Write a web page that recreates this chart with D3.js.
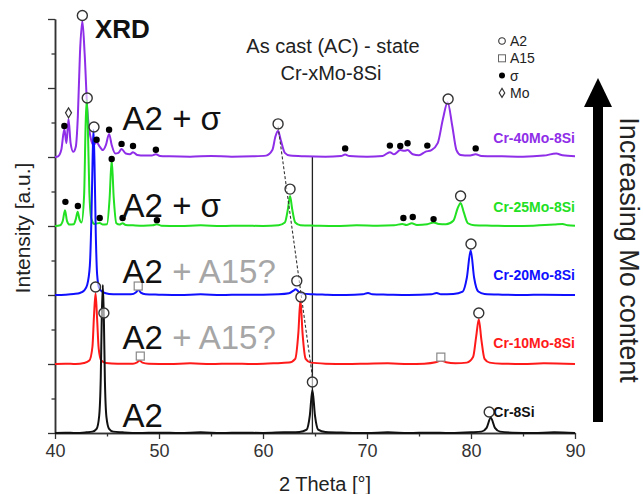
<!DOCTYPE html>
<html>
<head>
<meta charset="utf-8">
<script src="https://cdn.jsdelivr.net/npm/d3@7"></script>
<style>
  body { margin: 0; background: #fff; }
  svg { font-family: "Liberation Sans", Arial, sans-serif; display: block; }
</style>
</head>
<body>
<svg width="643" height="494"></svg>
<script>
// ---- data (2 Theta [deg], intensity in a.u. above own baseline) ----
var seriesNames = ["Cr-8Si", "Cr-10Mo-8Si", "Cr-20Mo-8Si", "Cr-25Mo-8Si", "Cr-40Mo-8Si"];
var offsets = [0, 2, 4, 6, 8];
var xTicks = [40, 50, 60, 70, 80, 90];

var cr8Si = [[40,0],[41,0.01],[42,0],[43,0.02],[43.6,0.04],[44.0,0.12],[44.25,0.5],[44.4,1.6],[44.5,3.4],[44.6,4.29],[44.7,3.3],[44.8,1.5],[44.95,0.45],[45.2,0.12],[45.6,0.04],[46.5,0.02],[48,0],[50,0.01],[52,0],[54,0.02],[56,0],[58,0.01],[60,0],[62,0.02],[63.5,0.03],[64.2,0.1],[64.5,0.5],[64.75,1.25],[65.0,0.5],[65.3,0.1],[66,0.03],[68,0.01],[70,0],[72,0.02],[74,0],[76,0.01],[78,0],[80,0.02],[81.0,0.04],[81.5,0.15],[81.9,0.44],[82.3,0.15],[82.8,0.04],[84,0.01],[86,0],[88,0.02],[90,0]];

var cr10Mo = [[40,0],[41,0.01],[42,0],[42.8,0.03],[43.3,0.1],[43.6,0.5],[43.75,1.4],[43.9,2.05],[44.05,1.3],[44.2,0.45],[44.45,0.1],[44.9,0.03],[46,0.01],[47.5,0.01],[47.9,0.05],[48.15,0.1],[48.4,0.04],[49,0.01],[51,0],[53,0.02],[55,0],[57,0.01],[59,0],[61,0.02],[62.5,0.04],[63.1,0.15],[63.4,0.9],[63.6,1.86],[63.8,0.9],[64.1,0.15],[64.6,0.04],[66,0.01],[68,0],[70,0.01],[72,0.02],[74,0],[75.5,0.01],[76.6,0.05],[77.1,0.1],[77.6,0.05],[78.5,0.02],[79.6,0.04],[80.2,0.2],[80.5,0.8],[80.75,1.3],[81.0,0.7],[81.3,0.15],[81.8,0.04],[83,0.01],[85,0],[87,0.02],[90,0]];

var cr20Mo = [[40,0],[41,0.01],[41.8,0.03],[42.4,0.06],[42.8,0.13],[43.1,0.3],[43.35,0.85],[43.5,2.2],[43.62,4.0],[43.7,4.78],[43.8,3.8],[43.92,1.8],[44.05,0.6],[44.25,0.2],[44.6,0.08],[45.2,0.03],[46,0.02],[47.3,0.02],[47.8,0.08],[48.0,0.15],[48.25,0.07],[48.7,0.02],[50,0.01],[52,0],[54,0.02],[56,0],[58,0.01],[60,0.01],[61.5,0.02],[62.5,0.05],[62.9,0.12],[63.15,0.17],[63.4,0.1],[63.8,0.04],[64.8,0.02],[66,0.01],[68,0],[69.6,0.02],[70.1,0.06],[70.5,0.02],[72,0.01],[74,0],[76.2,0.02],[76.7,0.06],[77.1,0.02],[78.3,0.03],[79.2,0.1],[79.6,0.5],[79.97,1.3],[80.3,0.5],[80.7,0.1],[81.3,0.03],[83,0.01],[85,0],[87,0.01],[90,0]];

var cr25Mo = [[40,0],[40.5,0.02],[40.75,0.15],[40.96,0.46],[41.15,0.15],[41.4,0.04],[41.8,0.05],[42.0,0.2],[42.18,0.41],[42.35,0.2],[42.55,0.1],[42.8,0.9],[42.95,3.0],[43.05,3.65],[43.15,3.0],[43.3,1.0],[43.5,0.2],[43.8,0.06],[44.3,0.09],[44.6,0.04],[45.0,0.05],[45.25,0.8],[45.45,1.91],[45.65,0.8],[45.9,0.08],[46.2,0.04],[46.5,0.08],[46.8,0.03],[47.5,0.02],[48.5,0.01],[49.4,0.02],[49.8,0.05],[50.2,0.01],[52,0],[54,0.02],[56,0],[58,0.01],[60,0],[61.5,0.02],[62.1,0.1],[62.4,0.5],[62.6,0.87],[62.8,0.5],[63.1,0.1],[63.6,0.02],[65,0.01],[67,0],[69,0.02],[71,0.01],[72.6,0.02],[73.4,0.06],[73.8,0.03],[74.3,0.08],[74.8,0.03],[75.8,0.05],[76.4,0.1],[76.9,0.06],[77.6,0.05],[78.3,0.15],[78.7,0.5],[79.0,0.67],[79.3,0.4],[79.7,0.08],[80.3,0.02],[82,0.01],[84,0],[86,0.01],[88,0.04],[88.8,0.06],[89.3,0.02],[90,0.01]];

var cr40Mo = [[40,0],[40.3,0.02],[40.6,0.2],[40.9,0.81],[41.1,0.4],[41.3,1.1],[41.5,0.4],[41.75,0.15],[42.0,0.3],[42.2,1.2],[42.4,3.0],[42.63,3.94],[42.85,3.0],[43.1,1.4],[43.4,0.6],[43.7,0.35],[44.0,0.43],[44.3,0.3],[44.6,0.2],[44.9,0.35],[45.2,0.67],[45.45,0.35],[45.8,0.1],[46.1,0.12],[46.4,0.23],[46.8,0.1],[47.2,0.08],[47.5,0.14],[47.9,0.06],[48.6,0.04],[49.3,0.04],[49.7,0.08],[50.1,0.03],[51,0.02],[53,0.01],[55,0.03],[57,0.01],[59,0.02],[60.3,0.04],[60.9,0.2],[61.2,0.6],[61.45,0.76],[61.7,0.5],[62.1,0.12],[62.6,0.04],[64,0.02],[66,0.01],[67.5,0.03],[67.9,0.07],[68.3,0.03],[70,0.01],[71.5,0.03],[72.2,0.14],[72.6,0.08],[73.2,0.2],[73.6,0.18],[73.9,0.2],[74.4,0.08],[75.0,0.05],[75.6,0.15],[76.2,0.2],[76.8,0.4],[77.3,1.1],[77.75,1.59],[78.2,0.9],[78.6,0.2],[79.0,0.06],[79.8,0.04],[80.45,0.08],[81,0.03],[83,0.02],[85,0.01],[87,0.04],[88.2,0.1],[88.8,0.05],[90,0.02]];

var patterns = [cr8Si, cr10Mo, cr20Mo, cr25Mo, cr40Mo];

// phase markers: [series index, 2 Theta, intensity above own baseline]
var a2Marks = [[4,42.63,4.1],[4,61.45,0.96],[4,77.8,1.68],
               [3,43.1,3.71],[3,62.6,1.07],[3,79.0,0.87],
               [2,43.75,4.87],[2,63.25,0.41],[2,80.0,1.48],
               [1,43.9,2.23],[1,63.65,1.94],[1,80.75,1.48],
               [0,44.7,3.48],[0,64.75,1.48],[0,81.75,0.61]];
var a15Marks = [[2,48.0,0.26],[1,48.2,0.23],[1,77.1,0.2]];
var sigmaMarks = [[4,40.9,0.9],[4,44.0,0.5],[4,45.2,0.79],[4,46.4,0.38],[4,47.5,0.32],[4,49.7,0.21],
                  [4,67.9,0.25],[4,72.2,0.33],[4,73.2,0.32],[4,73.9,0.4],[4,75.8,0.33],[4,80.45,0.25],
                  [3,41.0,0.7],[3,42.2,0.58],[3,44.3,0.23],[3,45.45,1.94],[3,46.5,0.23],[3,49.8,0.17],
                  [3,73.5,0.23],[3,74.4,0.26],[3,76.4,0.2]];
var moMarks = [[4,41.3,1.28]];

// guide lines: A2 peak shift (dashed) and Cr-8Si reference (solid)
var shiftLine = [[61.45,8.88],[64.75,1.63]];
var refLine = [[64.75,0],[64.75,8]];

var phaseLabels = [["A2 + σ",""],["A2 + σ",""],["A2"," + A15?"],["A2"," + A15?"],["A2",""]];
var phaseLabelY = [8.78, 6.26, 4.35, 2.43, 0.17];

// ---- drawing ----
var svg = d3.select("svg"),
    margin = {top: 19, right: 68, bottom: 61, left: 55},
    width = 643 - margin.left - margin.right,
    height = 494 - margin.top - margin.bottom,
    g = svg.append("g").attr("transform", "translate(" + margin.left + "," + margin.top + ")");

var colors = ["#111111", "#ff1a1a", "#1010ff", "#22e022", "#8f2ee8"];

var x = d3.scaleLinear().domain([40, 90]).range([0, width]);
var y = d3.scaleLinear().domain([0, 12]).range([height, 0]);

var axisColor = "#333";

// x axis
var xAxis = g.append("g")
    .attr("transform", "translate(0," + height + ")")
    .call(d3.axisBottom(x).tickValues(xTicks).tickSize(6).tickSizeOuter(0).tickPadding(5));
g.append("g")
    .attr("transform", "translate(0," + height + ")")
    .call(d3.axisBottom(x).tickValues([45,55,65,75,85]).tickSize(3.5).tickFormat("").tickSizeOuter(0));

// y axis, no labels
g.append("g")
    .call(d3.axisLeft(y).tickValues([0,2,4,6,8,10,12]).tickSize(7).tickFormat("").tickSizeOuter(0));
g.append("g")
    .call(d3.axisLeft(y).tickValues([1,3,5,7,9,11]).tickSize(3.5).tickFormat("").tickSizeOuter(0));

g.selectAll(".domain").attr("stroke", axisColor).attr("stroke-width", 1.5);
g.selectAll(".tick line").attr("stroke", axisColor).attr("stroke-width", 1.3);
xAxis.selectAll(".tick text").attr("font-size", 18).attr("fill", "#333")
    .attr("font-family", "Liberation Sans, Arial, sans-serif");

// reference lines
var line = d3.line().x(function(d){ return x(d[0]); }).y(function(d){ return y(d[1]); });
g.append("path").datum(refLine).attr("d", line).attr("stroke", "#222").attr("stroke-width", 1.3).attr("fill", "none");

// patterns, top series first so black lies on top
for (var i = patterns.length - 1; i >= 0; i--) {
    var off = offsets[i];
    var curve = d3.line()
        .x(function(d){ return x(d[0]); })
        .y(function(d){ return y(d[1] + off); })
        .curve(d3.curveMonotoneX);
    g.append("path")
        .datum(patterns[i])
        .attr("d", curve)
        .attr("fill", "none")
        .attr("stroke", colors[i])
        .attr("stroke-width", 2)
        .attr("stroke-linejoin", "round");
}

g.append("path").datum(shiftLine).attr("d", line).attr("stroke", "#333")
    .attr("stroke-width", 1.1).attr("stroke-dasharray", "3,2").attr("fill", "none");

// markers
function px(m){ return x(m[1]); }
function py(m){ return y(m[2] + offsets[m[0]]); }

g.selectAll(".sigma").data(sigmaMarks).enter().append("circle")
    .attr("cx", px).attr("cy", py).attr("r", 3.2).attr("fill", "#000");
g.selectAll(".a2").data(a2Marks).enter().append("circle")
    .attr("cx", px).attr("cy", py).attr("r", 5).attr("fill", "#fff").attr("fill-opacity", 0.6)
    .attr("stroke", "#333").attr("stroke-width", 1.4);
g.selectAll(".a15").data(a15Marks).enter().append("rect")
    .attr("x", function(m){ return px(m) - 4; }).attr("y", function(m){ return py(m) - 4; })
    .attr("width", 8).attr("height", 8).attr("fill", "#fff").attr("stroke", "#888").attr("stroke-width", 1.2);
g.selectAll(".mo").data(moMarks).enter().append("path")
    .attr("d", function(m){ var cx = px(m), cy = py(m);
        return "M" + cx + "," + (cy-5) + "L" + (cx+3) + "," + cy + "L" + cx + "," + (cy+5) + "L" + (cx-3) + "," + cy + "Z"; })
    .attr("fill", "#fff").attr("stroke", "#333").attr("stroke-width", 1.2);

// phase labels
phaseLabels.forEach(function(p, i){
    var t = g.append("text").attr("x", x(46.5)).attr("y", y(phaseLabelY[i]))
        .attr("font-size", 33).attr("fill", "#111");
    t.append("tspan").text(p[0]);
    if (p[1]) t.append("tspan").attr("fill", "#a6a6a6").text(p[1]);
});

// series labels
var labelY = [0.46, 0.46, 0.43, 0.41, 0.41];
seriesNames.forEach(function(n, i){
    var t = g.append("text")
        .attr("y", y(offsets[i] + labelY[i]))
        .attr("font-size", 14).attr("font-weight", "bold").attr("fill", colors[i])
        .text(n);
    if (i === 0) t.attr("x", x(82.15));
    else t.attr("x", width).attr("text-anchor", "end");
});

// titles
svg.append("text").attr("x", 95).attr("y", 38).attr("font-size", 26).attr("font-weight", "bold").attr("fill", "#111").text("XRD");
svg.append("text").attr("x", 333).attr("y", 53).attr("text-anchor", "middle").attr("font-size", 20).attr("fill", "#222").text("As cast (AC) - state");
svg.append("text").attr("x", 331).attr("y", 80).attr("text-anchor", "middle").attr("font-size", 20).attr("fill", "#222").text("Cr-xMo-8Si");

// legend
var legendItems = ["A2", "A15", "σ", "Mo"];
var leg = svg.append("g").attr("transform", "translate(502,41)");
legendItems.forEach(function(n, i){
    var yy = i * 17.3;
    if (i === 0) leg.append("circle").attr("cx", 0).attr("cy", yy).attr("r", 3.3).attr("fill", "#fff").attr("stroke", "#333").attr("stroke-width", 1.1);
    if (i === 1) leg.append("rect").attr("x", -3.5).attr("y", yy - 3.5).attr("width", 7).attr("height", 7).attr("fill", "#fff").attr("stroke", "#666").attr("stroke-width", 1);
    if (i === 2) leg.append("circle").attr("cx", 0).attr("cy", yy).attr("r", 3).attr("fill", "#000");
    if (i === 3) leg.append("path").attr("d", "M0," + (yy-4.5) + "L2.8," + yy + "L0," + (yy+4.5) + "L-2.8," + yy + "Z").attr("fill", "#fff").attr("stroke", "#333").attr("stroke-width", 1.1);
    leg.append("text").attr("x", 8).attr("y", yy + 5).attr("font-size", 14).attr("fill", "#222").text(n);
});

// axis titles
svg.append("text").attr("x", 325).attr("y", 491).attr("text-anchor", "middle").attr("font-size", 20).attr("fill", "#222").text("2 Theta [°]");
svg.append("text").attr("transform", "translate(30,228) rotate(-90)").attr("text-anchor", "middle").attr("font-size", 21).attr("fill", "#222").text("Intensity [a.u.]");

// arrow
svg.append("rect").attr("x", 593).attr("y", 100).attr("width", 10).attr("height", 322).attr("fill", "#000");
svg.append("path").attr("d", "M584,107L612,107L598,78Z").attr("fill", "#000");
svg.append("text").attr("transform", "translate(620,250) rotate(90)").attr("text-anchor", "middle")
    .attr("font-size", 27).attr("fill", "#222").text("Increasing Mo content");
</script>
</body>
</html>
